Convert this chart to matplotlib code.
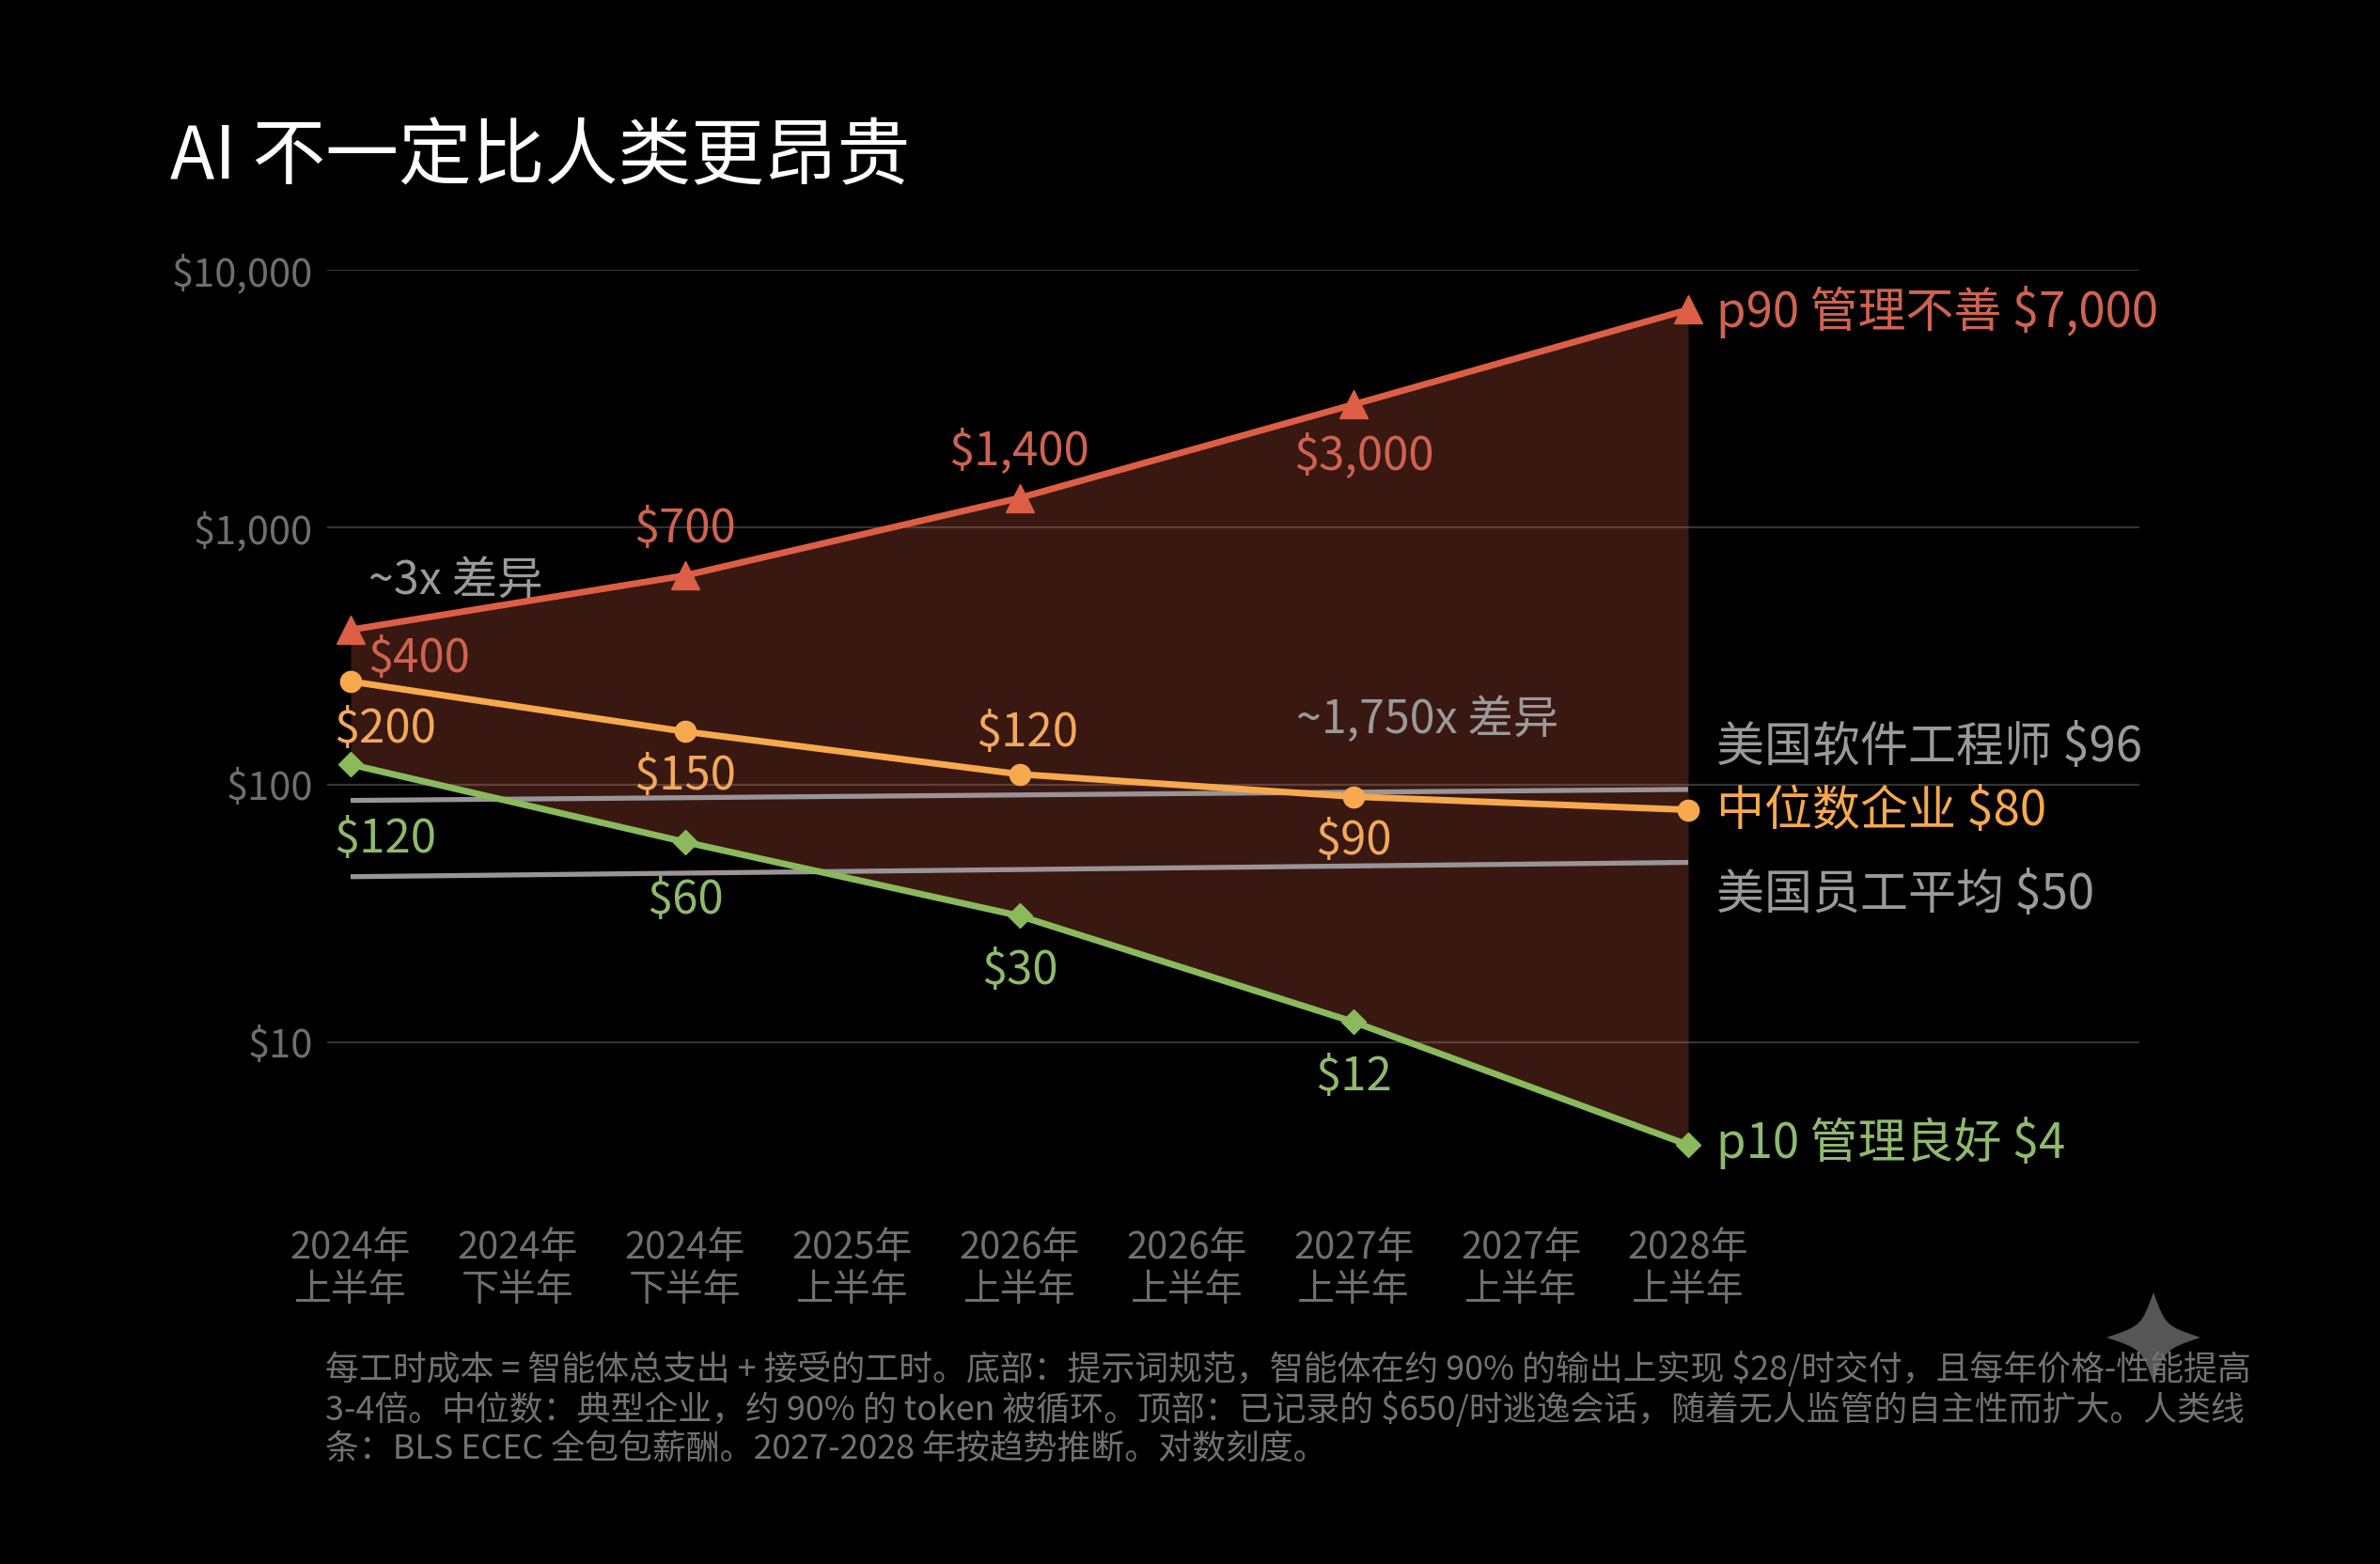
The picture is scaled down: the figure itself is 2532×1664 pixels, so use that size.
import matplotlib
matplotlib.use("Agg")
import matplotlib.pyplot as plt
from matplotlib.path import Path
from matplotlib.patches import PathPatch
from matplotlib.transforms import IdentityTransform

plt.rcParams['font.family'] = ['Noto Sans CJK SC', 'DejaVu Sans']

W, H = 2532, 1664
BG = '#000000'

title = 'AI 不一定比人类更昂贵'
periods = ['2024年\n上半年', '2024年\n下半年', '2024年\n下半年', '2025年\n上半年', '2026年\n上半年',
           '2026年\n上半年', '2027年\n上半年', '2027年\n上半年', '2028年\n上半年']
pt_idx = [0, 2, 4, 6, 8]
p90 = [400, 650, 1300, 3000, 7000]
median = [252, 161, 110, 90, 80]
p10 = [120, 60, 31, 12, 4]
swe_idx = [0, 8]
swe = [87, 96]
avg = [44, 50]
p90_labels = ['$400', '$700', '$1,400', '$3,000']
median_labels = ['$200', '$150', '$120', '$90']
p10_labels = ['$120', '$60', '$30', '$12']
end_p90 = 'p90 管理不善 $7,000'
end_median = '中位数企业 $80'
end_p10 = 'p10 管理良好 $4'
end_swe = '美国软件工程师 $96'
end_avg = '美国员工平均 $50'
yticks = [10, 100, 1000, 10000]
ytick_labels = ['$10', '$100', '$1,000', '$10,000']
note = ('每工时成本 = 智能体总支出 + 接受的工时。底部：提示词规范，智能体在约 90% 的输出上实现 $28/时交付，且每年价格-性能提高\n'
        '3-4倍。中位数：典型企业，约 90% 的 token 被循环。顶部：已记录的 $650/时逃逸会话，随着无人监管的自主性而扩大。人类线\n'
        '条：BLS ECEC 全包包薪酬。2027-2028 年按趋势推断。对数刻度。')

RED, ORANGE, GREEN = '#dc5f45', '#f7a94d', '#8aba5c'
RED_T, ORANGE_T, GREEN_T = '#cf6350', '#f2a95a', '#8fba6c'
HUMAN = '#9a9498'
GREY = '#9a9a9a'
TICK = '#6f6f6f'

fig = plt.figure(figsize=(W / 100, H / 100), dpi=100, facecolor=BG)
ax = fig.add_axes([348 / W, 1 - 1241 / H, (2276 - 348) / W, (1241 - 287) / H], facecolor=BG)
ax.set_yscale('log')
ax.set_xlim(-25 / 177.875, (2276 - 373) / 177.875)
ax.set_ylim(3.3, 10000)
for s in ax.spines.values():
    s.set_visible(False)

ax.set_yticks(yticks, ytick_labels)
ax.minorticks_off()
ax.tick_params(axis='y', length=0, pad=11, labelsize=30, labelcolor=TICK)
ax.set_xticks(range(len(periods)), periods)
ax.tick_params(axis='x', length=0, pad=48, labelsize=28.7, labelcolor=TICK)
for t in ax.get_xticklabels():
    t.set_linespacing(1.16)
ax.grid(axis='y', color='#343434', lw=1.6, zorder=1)
ax.grid(axis='x', visible=False)
ax.set_axisbelow(True)

ax.fill_between(pt_idx, p10, p90, color=RED, alpha=0.26, lw=0, zorder=2)
ax.plot(swe_idx, swe, color=HUMAN, lw=3.8, zorder=3, solid_capstyle='butt')
ax.plot(swe_idx, avg, color=HUMAN, lw=3.8, zorder=3, solid_capstyle='butt')
ax.plot(pt_idx, p90, color=RED, lw=5, marker='^', ms=21, zorder=5)
ax.plot(pt_idx, median, color=ORANGE, lw=5, marker='o', ms=16, zorder=5)
ax.plot(pt_idx, p10, color=GREEN, lw=5, marker='D', ms=13.5, zorder=5)


def lab(x, y, s, dx, dy, color, size=35.3, ha='center'):
    ax.annotate(s, (x, y), xytext=(dx, dy), textcoords='offset pixels', ha=ha, va='center',
                color=color, fontsize=size, zorder=6)


offs90 = [(73, -31), (0, 49), (0, 49), (11, -56)]
offsmed = [(37, -51), (0, -48), (8, 43), (0, -48)]
offs10 = [(37, -80), (0, -62), (0, -59), (0, -59)]
for i, s, o in zip(pt_idx, p90_labels, offs90):
    lab(i, p90[pt_idx.index(i)], s, o[0], o[1], RED_T)
for i, s, o in zip(pt_idx, median_labels, offsmed):
    lab(i, median[pt_idx.index(i)], s, o[0], o[1], ORANGE_T)
for i, s, o in zip(pt_idx, p10_labels, offs10):
    lab(i, p10[pt_idx.index(i)], s, o[0], o[1], GREEN_T)

lab(8, p90[-1], end_p90, 30, -3, RED_T, 36.7, 'left')
lab(8, median[-1], end_median, 30, -2, ORANGE, 36.7, 'left')
lab(8, p10[-1], end_p10, 30, 2, GREEN_T, 36.7, 'left')
lab(8, swe[-1], end_swe, 30, 45, GREY, 36.7, 'left')
lab(8, avg[-1], end_avg, 30, -35, GREY, 36.7, 'left')


def ftext(x, y, s, **kw):
    return fig.text(x / W, 1 - y / H, s, **kw)


ftext(181, 169, title, color='white', fontsize=56, fontweight='medium', va='center', ha='left')
ftext(392, 618, '~3x 差异', color=GREY, fontsize=34.8, va='center', ha='left', zorder=8)
ftext(1379, 766, '~1,750x 差异', color=GREY, fontsize=34.8, va='center', ha='left', zorder=8)

# watermark sparkle
cx, cy, rx, ry = 2291, H - 1423, 50, 48
k = 0.26
verts = [(cx, cy + ry),
         (cx + k * rx, cy + k * ry), (cx + k * rx, cy + k * ry), (cx + rx, cy),
         (cx + k * rx, cy - k * ry), (cx + k * rx, cy - k * ry), (cx, cy - ry),
         (cx - k * rx, cy - k * ry), (cx - k * rx, cy - k * ry), (cx - rx, cy),
         (cx - k * rx, cy + k * ry), (cx - k * rx, cy + k * ry), (cx, cy + ry)]
codes = [Path.MOVETO] + [Path.CURVE4] * 12
fig.add_artist(PathPatch(Path(verts, codes), transform=IdentityTransform(), fc='#565656', ec='none', zorder=1))

ftext(346, 1438, note, color='#727272', fontsize=25.83, va='top', ha='left', linespacing=1.18, zorder=8)

fig.savefig('out.png', dpi=100, facecolor=BG)
